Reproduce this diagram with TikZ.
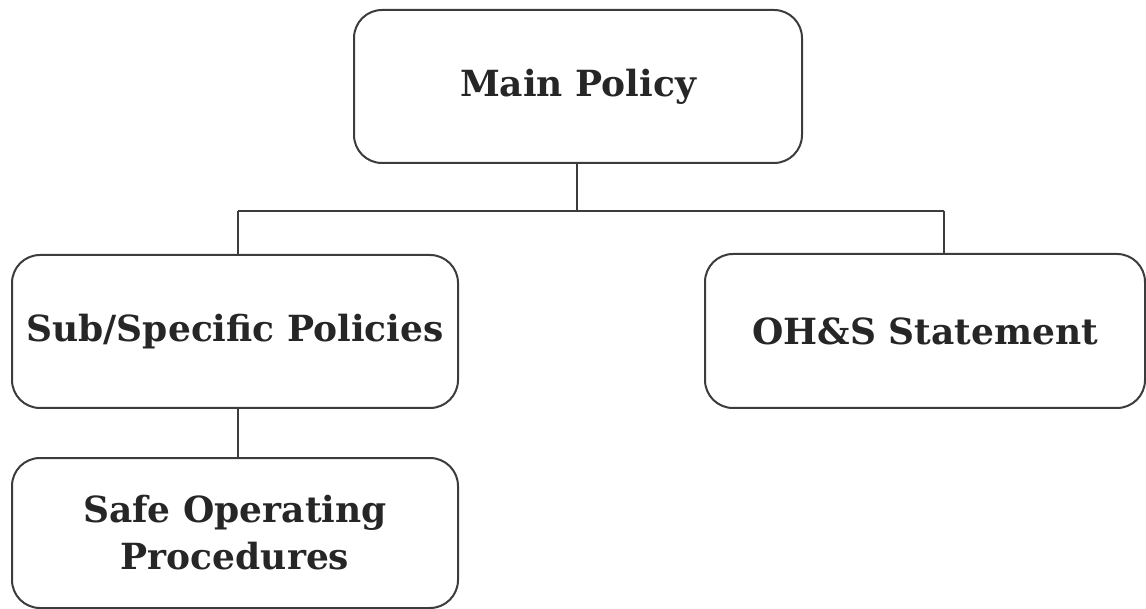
\documentclass[tikz,border=0pt]{standalone}
\usepackage{fontspec}
\setmainfont{DejaVu Serif}
\usepackage{tikz}
\definecolor{lineg}{HTML}{3C3C3C}
\definecolor{textg}{HTML}{262626}

\begin{document}
\begin{tikzpicture}[x=1pt, y=-1pt,
	every node/.style={rectangle, rounded corners=28pt, draw=lineg, line width=2pt, inner sep=0pt, align=center, text=textg, font=\bfseries\fontsize{36}{47}\selectfont},
	link/.style={draw=lineg, line width=2pt}]
			\useasboundingbox (0,0) rectangle (1146,609);
			\node[minimum width=448pt, minimum height=153pt] (main) at (578,86.5){Main Policy};
			\node[minimum width=446pt, minimum height=153pt] (sub) at (235,331.5){Sub/Specific Policies};
			\node[minimum width=440pt, minimum height=154pt] (ohs) at (925,331){OH\&S Statement};
			\node[minimum width=446pt, minimum height=150pt] (safe) at (235,533){Safe Operating\\Procedures};
			\coordinate (bus) at (577,211);
			\coordinate (ldrop) at (238,211);
			\coordinate (rdrop) at (944,211);
			
			\path[link] (main.south -| bus) -- (bus);
			\path[link] (ldrop) -- (rdrop);
			\path[link] (ldrop) -- (ldrop |- sub.north);
			\path[link] (rdrop) -- (rdrop |- ohs.north);
			\path[link] (sub.south -| ldrop) -- (safe.north -| ldrop);
			\end{tikzpicture}
\end{document}
